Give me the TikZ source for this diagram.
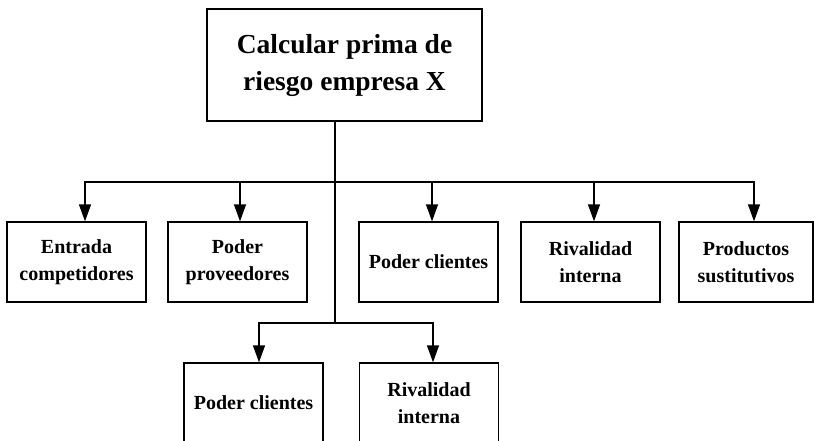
\documentclass[tikz,border=0pt]{standalone}
\usepackage{fontspec}
\setmainfont{Liberation Serif}
\usetikzlibrary{arrows.meta}
\tikzset{
  caja/.style={draw, line width=1.3pt, minimum width=139pt, minimum height=80pt, inner sep=0pt, align=center, font=\fontsize{20}{27}\selectfont\bfseries},
  flecha/.style={line width=1.3pt, -{Triangle[length=17pt,width=12pt]}},
  linea/.style={line width=1.3pt}
}
\begin{document}
\begin{tikzpicture}[x=1pt,y=-1pt]
\useasboundingbox (0,0) rectangle (814,441);

\node[caja, minimum width=275pt, minimum height=112pt, font=\fontsize{27.5}{37}\selectfont\bfseries] (prima) at (344.5,65) {Calcular prima de\\riesgo empresa X};

\node[caja] (entrada) at (76.5,262) {Entrada\\competidores};
\node[caja] (proveedores) at (237.5,262) {Poder\\proveedores};
\node[caja] (clientes) at (428.5,262) {Poder clientes};
\node[caja] (rivalidad) at (590.5,262) {Rivalidad\\interna};
\node[caja, minimum width=134pt] (sustitutos) at (746,262) {Productos\\sustitutivos};

\node[caja] (clientesdos) at (253.5,403) {Poder clientes};
\node[caja] (rivalidaddos) at (429,403) {Rivalidad\\interna};

\coordinate (nivel1) at (335,182);
\coordinate (nivel2) at (335,323);
\draw[linea] (prima.south -| nivel1) -- (nivel2);

\draw[flecha] (nivel1) -| ([xshift=8.5pt]entrada.north);
\draw[flecha] (nivel1) -| ([xshift=2.5pt]proveedores.north);
\draw[flecha] (nivel1) -| ([xshift=3.5pt]clientes.north);
\draw[flecha] (nivel1) -| ([xshift=3.5pt]rivalidad.north);
\draw[flecha] (nivel1) -| ([xshift=8pt]sustitutos.north);

\draw[flecha] (nivel2) -| ([xshift=5.5pt]clientesdos.north);
\draw[flecha] (nivel2) -| ([xshift=4pt]rivalidaddos.north);
\end{tikzpicture}
\end{document}
